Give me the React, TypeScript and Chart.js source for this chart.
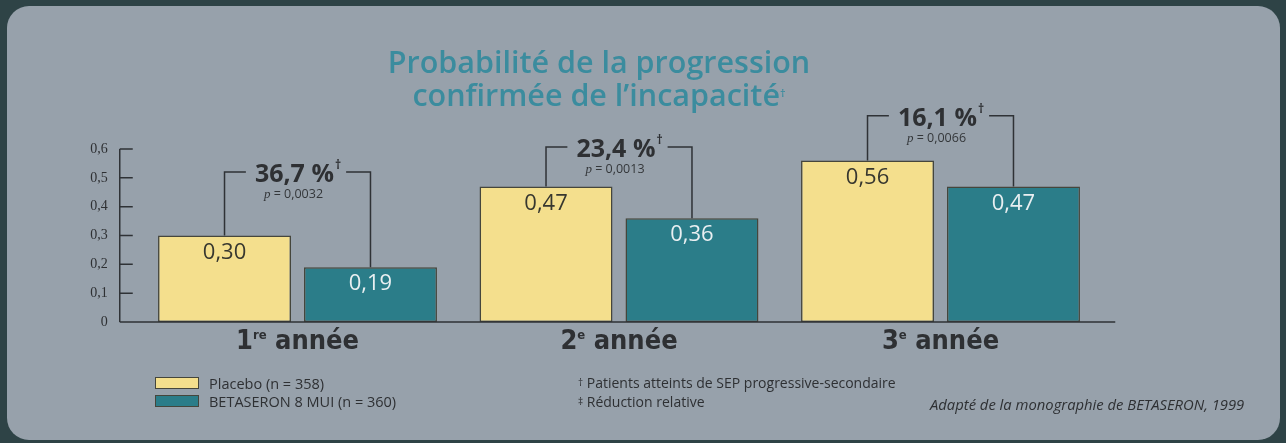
import React, { useEffect, useRef } from "react";
import { Chart, registerables } from "chart.js";

Chart.register(...registerables);

// ---- data ----
const categoryNumbers = ["1", "2", "3"];
const categorySuffixes = ["re", "e", "e"];
const categoryWord = "année";
const seriesLabels = ["Placebo (n = 358)", "BETASERON 8 MUI (n = 360)"];
const placeboValues = [0.3, 0.47, 0.56];
const betaseronValues = [0.19, 0.36, 0.47];
const reductionLabels = ["36,7 %", "23,4 %", "16,1 %"];
const pValueLabels = ["0,0032", "0,0013", "0,0066"];
const bracketLevels = [0.52, 0.607, 0.715];
const yTickValues = [0, 0.1, 0.2, 0.3, 0.4, 0.5, 0.6];
const titleLines = ["Probabilité de la progression", "confirmée de l’incapacité"];
const footnotes = [
  ["†", "Patients atteints de SEP progressive-secondaire"],
  ["‡", "Réduction relative"],
];
const sourceText = "Adapté de la monographie de BETASERON, 1999";

// ---- style ----
const YELLOW = "#f4df8d";
const TEAL = "#2b7d89";
const OUTLINE = "#45463c";
const INK = "#2e3033";
const TITLE_COLOR = "#3b8c9e";
const PANEL = "#97a1ab";
const OUTER = "#2e4346";
const SANS = '"Open Sans", "Noto Sans", sans-serif';
const NARROW = '"Liberation Sans Narrow", "DejaVu Sans Condensed", "Open Sans", sans-serif';
const SERIF = '"Liberation Serif", "DejaVu Serif", serif';

const fmt = (v: number) => (Math.abs(v) < 1e-9 ? "0" : v.toFixed(1).replace(".", ","));

const decorPlugin = {
  id: "decor",
  afterDatasetsDraw(chart: any) {
    const { ctx, chartArea, scales } = chart;
    const y = scales.y;
    const x = scales.x;
    const axisX = chartArea.left - 17;
    const y0 = y.getPixelForValue(0);
    const yTop = y.getPixelForValue(yTickValues[yTickValues.length - 1]);
    ctx.save();
    ctx.strokeStyle = "#2f3236";
    ctx.lineWidth = 1.5;
    // y axis line + inward ticks
    ctx.beginPath();
    ctx.moveTo(axisX, y0);
    ctx.lineTo(axisX, yTop);
    yTickValues.forEach((v) => {
      const py = y.getPixelForValue(v);
      ctx.moveTo(axisX, py);
      ctx.lineTo(axisX + 13, py);
    });
    // x axis line
    ctx.moveTo(axisX, y0);
    ctx.lineTo(chartArea.right + 14, y0);
    ctx.stroke();

    // value labels inside bars
    const metas = [chart.getDatasetMeta(0), chart.getDatasetMeta(1)];
    ctx.font = `22px ${SANS}`;
    ctx.textAlign = "center";
    ctx.textBaseline = "middle";
    metas.forEach((meta: any, di: number) => {
      const vals = di === 0 ? placeboValues : betaseronValues;
      ctx.fillStyle = di === 0 ? "#37372f" : "#e9eff1";
      meta.data.forEach((el: any, i: number) => {
        ctx.fillText(vals[i].toFixed(2).replace(".", ","), el.x, el.y + 17);
      });
    });

    // category labels with superscript
    categoryNumbers.forEach((num, i) => {
      const cx = x.getPixelForValue(i);
      const big = `bold 27px ${NARROW}`;
      const small = `bold 13px ${NARROW}`;
      ctx.font = big;
      const wNum = ctx.measureText(num).width;
      const wWord = ctx.measureText(" " + categoryWord).width;
      ctx.font = small;
      const wSup = ctx.measureText(categorySuffixes[i]).width;
      const total = wNum + wSup + wWord;
      let sx = cx - total / 2;
      const base = y0 + 27;
      ctx.textAlign = "left";
      ctx.textBaseline = "alphabetic";
      ctx.fillStyle = INK;
      ctx.font = big;
      ctx.fillText(num, sx, base);
      sx += wNum;
      ctx.font = small;
      ctx.fillText(categorySuffixes[i], sx, base - 10);
      sx += wSup;
      ctx.font = big;
      ctx.fillText(" " + categoryWord, sx, base);
    });

    // brackets
    ctx.strokeStyle = "#2f3236";
    ctx.lineWidth = 1.5;
    categoryNumbers.forEach((_, i) => {
      const a = metas[0].data[i];
      const b = metas[1].data[i];
      const by = y.getPixelForValue(bracketLevels[i]);
      const cx = x.getPixelForValue(i);
      const mainFont = `bold 25px ${SANS}`;
      const supFont = `bold 12px ${SANS}`;
      ctx.font = mainFont;
      const wMain = ctx.measureText(reductionLabels[i]).width;
      ctx.font = supFont;
      const wSup = ctx.measureText("†").width;
      const tw = wMain + wSup;
      const tl = cx - tw / 2;
      const tr = cx + tw / 2;
      ctx.beginPath();
      ctx.moveTo(a.x, a.y);
      ctx.lineTo(a.x, by);
      ctx.lineTo(tl - 9, by);
      ctx.moveTo(tr + 6, by);
      ctx.lineTo(b.x, by);
      ctx.lineTo(b.x, b.y);
      ctx.stroke();
      ctx.fillStyle = INK;
      ctx.textAlign = "left";
      ctx.textBaseline = "alphabetic";
      ctx.font = mainFont;
      ctx.fillText(reductionLabels[i], tl, by + 10);
      ctx.font = supFont;
      ctx.fillText("†", tl + wMain + 1, by - 3);
      // p value
      const pFont = `italic 13px ${SERIF}`;
      const restFont = `12.5px ${SANS}`;
      const rest = " = " + pValueLabels[i];
      ctx.font = pFont;
      const wp = ctx.measureText("p").width;
      ctx.font = restFont;
      const wr = ctx.measureText(rest).width;
      const px = cx - 4 - (wp + wr) / 2;
      ctx.fillStyle = "#34373a";
      ctx.font = pFont;
      ctx.fillText("p", px, by + 26);
      ctx.font = restFont;
      ctx.fillText(rest, px + wp, by + 26);
    });
    ctx.restore();
  },
};

export default function App() {
  const ref = useRef<HTMLCanvasElement | null>(null);
  useEffect(() => {
    document.body.style.margin = "0";
    if (!ref.current) return;
    const chart = new Chart(ref.current, {
      type: "bar",
      data: {
        labels: categoryNumbers.map((n, i) => `${n}${categorySuffixes[i]} ${categoryWord}`),
        datasets: [
          {
            label: seriesLabels[0],
            data: placeboValues,
            backgroundColor: YELLOW,
            borderColor: OUTLINE,
            borderWidth: 1.5,
            borderSkipped: false,
            categoryPercentage: 0.908,
            barPercentage: 0.911,
          },
          {
            label: seriesLabels[1],
            data: betaseronValues,
            backgroundColor: TEAL,
            borderColor: OUTLINE,
            borderWidth: 1.5,
            borderSkipped: false,
            categoryPercentage: 0.908,
            barPercentage: 0.911,
          },
        ],
      },
      options: {
        animation: false,
        responsive: false,
        maintainAspectRatio: false,
        events: [],
        layout: { padding: { left: 66.75, right: 184.75, top: 149, bottom: 121 } },
        plugins: { legend: { display: false }, title: { display: false }, tooltip: { enabled: false } },
        scales: {
          x: { display: false },
          y: {
            min: 0,
            max: 0.6,
            afterFit: (s: any) => {
              s.width = 70;
            },
            afterBuildTicks: (s: any) => {
              s.ticks = yTickValues.map((v) => ({ value: v }));
            },
            grid: { display: false },
            border: { display: false },
            ticks: {
              padding: 21,
              color: INK,
              font: { family: SERIF, size: 14 },
              callback: (v: any) => fmt(Number(v)),
            },
          },
        },
      },
      plugins: [decorPlugin],
    });
    return () => chart.destroy();
  }, []);

  return (
    <div style={{ position: "fixed", left: 0, top: 0, width: 1286, height: 443, background: OUTER, overflow: "hidden" }}>
      <div
        style={{
          position: "absolute",
          left: 7,
          top: 6,
          width: 1273,
          height: 434,
          background: PANEL,
          borderRadius: 22,
        }}
      />
      <canvas ref={ref} width={1286} height={443} style={{ position: "absolute", left: 0, top: 0, width: 1286, height: 443 }} />
      <div
        style={{
          position: "absolute",
          left: 0,
          width: 1198,
          top: 45,
          textAlign: "center",
          color: TITLE_COLOR,
          fontFamily: SANS,
          fontWeight: 600,
          fontSize: 30.5,
          lineHeight: "33px",
        }}
      >
        <div>{titleLines[0]}</div>
        <div>
          {titleLines[1]}
          <sup style={{ fontSize: 11, verticalAlign: "top", position: "relative", top: -2 }}>†</sup>
        </div>
      </div>
      {seriesLabels.map((lab, i) => (
        <div key={lab} style={{ position: "absolute", left: 155, top: 376 + i * 18, height: 14, display: "flex", alignItems: "center" }}>
          <div
            style={{
              width: 42,
              height: 10,
              background: i === 0 ? YELLOW : TEAL,
              border: `1px solid ${OUTLINE}`,
            }}
          />
          <span style={{ marginLeft: 10, fontFamily: SANS, fontSize: 14.5, color: INK, whiteSpace: "nowrap" }}>{lab}</span>
        </div>
      ))}
      {footnotes.map(([mark, txt], i) => (
        <div
          key={txt}
          style={{
            position: "absolute",
            left: 578,
            top: 373 + i * 19,
            fontFamily: SANS,
            fontSize: 14,
            color: INK,
            whiteSpace: "nowrap",
            lineHeight: "19px",
          }}
        >
          <span style={{ fontSize: 10, verticalAlign: "top" }}>{mark}</span> {txt}
        </div>
      ))}
      <div
        style={{
          position: "absolute",
          left: 930,
          top: 395,
          fontFamily: SANS,
          fontStyle: "italic",
          fontSize: 14.8,
          color: INK,
          whiteSpace: "nowrap",
          lineHeight: "19px",
        }}
      >
        {sourceText}
      </div>
    </div>
  );
}
